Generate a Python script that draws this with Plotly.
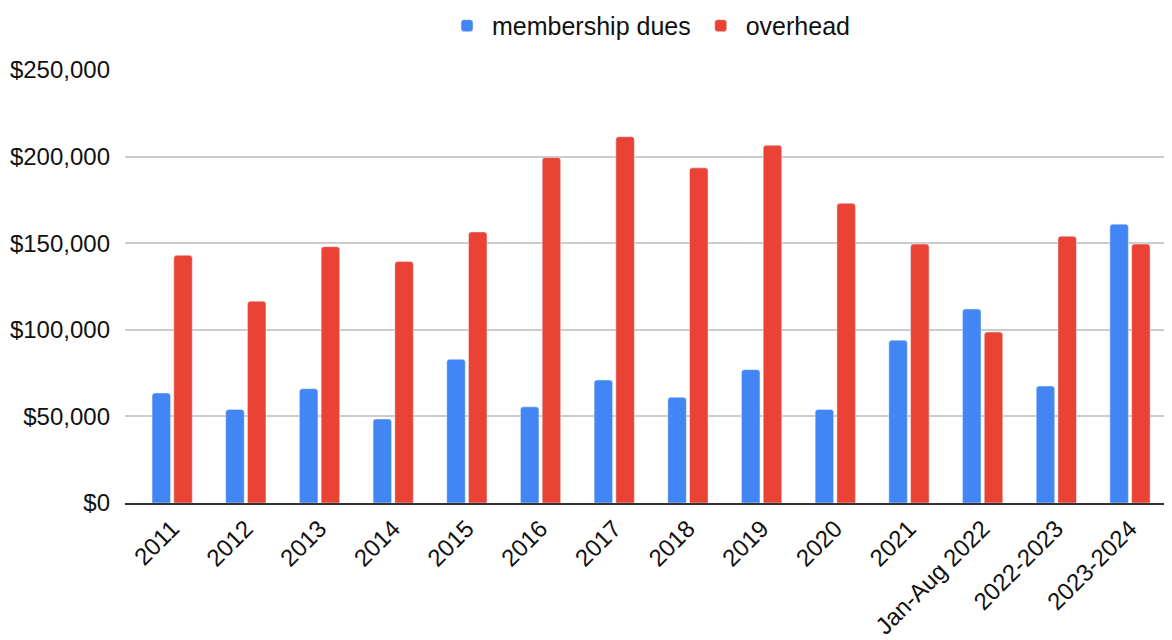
import plotly.graph_objects as go

years = ['2011', '2012', '2013', '2014', '2015', '2016', '2017', '2018', '2019',
         '2020', '2021', 'Jan-Aug 2022', '2022-2023', '2023-2024']
membership_dues = [63500, 54000, 66000, 48500, 83000, 55500, 71000, 61000, 77000,
                   54000, 94000, 112000, 67500, 161000]
overhead = [143000, 116500, 148000, 139500, 156500, 199500, 211500, 193500, 206500,
            173000, 149500, 98700, 154000, 149500]

fig = go.Figure()

fig.add_trace(go.Bar(
    x=years,
    y=membership_dues,
    name='membership dues',
    marker_color='#4285F4',
    marker_cornerradius=3
))

fig.add_trace(go.Bar(
    x=years,
    y=overhead,
    name='overhead',
    marker_color='#EA4335',
    marker_cornerradius=3
))

# page body has an 8px margin, so the figure is drawn a bit smaller
fig.update_layout(
    width=1164,
    height=632,
    barmode='group',
    bargap=0.41,
    bargroupgap=0.15,
    paper_bgcolor='white',
    plot_bgcolor='white',
    font=dict(family='Arial, Liberation Sans', size=24, color='#111'),
    margin=dict(l=117, r=0, t=62, b=137, autoexpand=False),
    legend=dict(
        orientation='h',
        x=0.5, xanchor='center',
        y=1.155, yanchor='top',
        font=dict(size=25),
        itemwidth=40,
    ),
    xaxis=dict(
        range=[-0.64, 13.57],
        tickangle=-45,
        showgrid=False,
        showline=True,
        linecolor='#333',
        linewidth=2,
        ticks='',
    ),
    yaxis=dict(
        range=[0, 250000],
        dtick=50000,
        tickprefix='$',
        tickformat=',d',
        gridcolor='#cccccc',
        gridwidth=1.5,
        zeroline=False,
        ticks='',
        ticklabelstandoff=14,
    ),
)

fig.write_html("out.html")
